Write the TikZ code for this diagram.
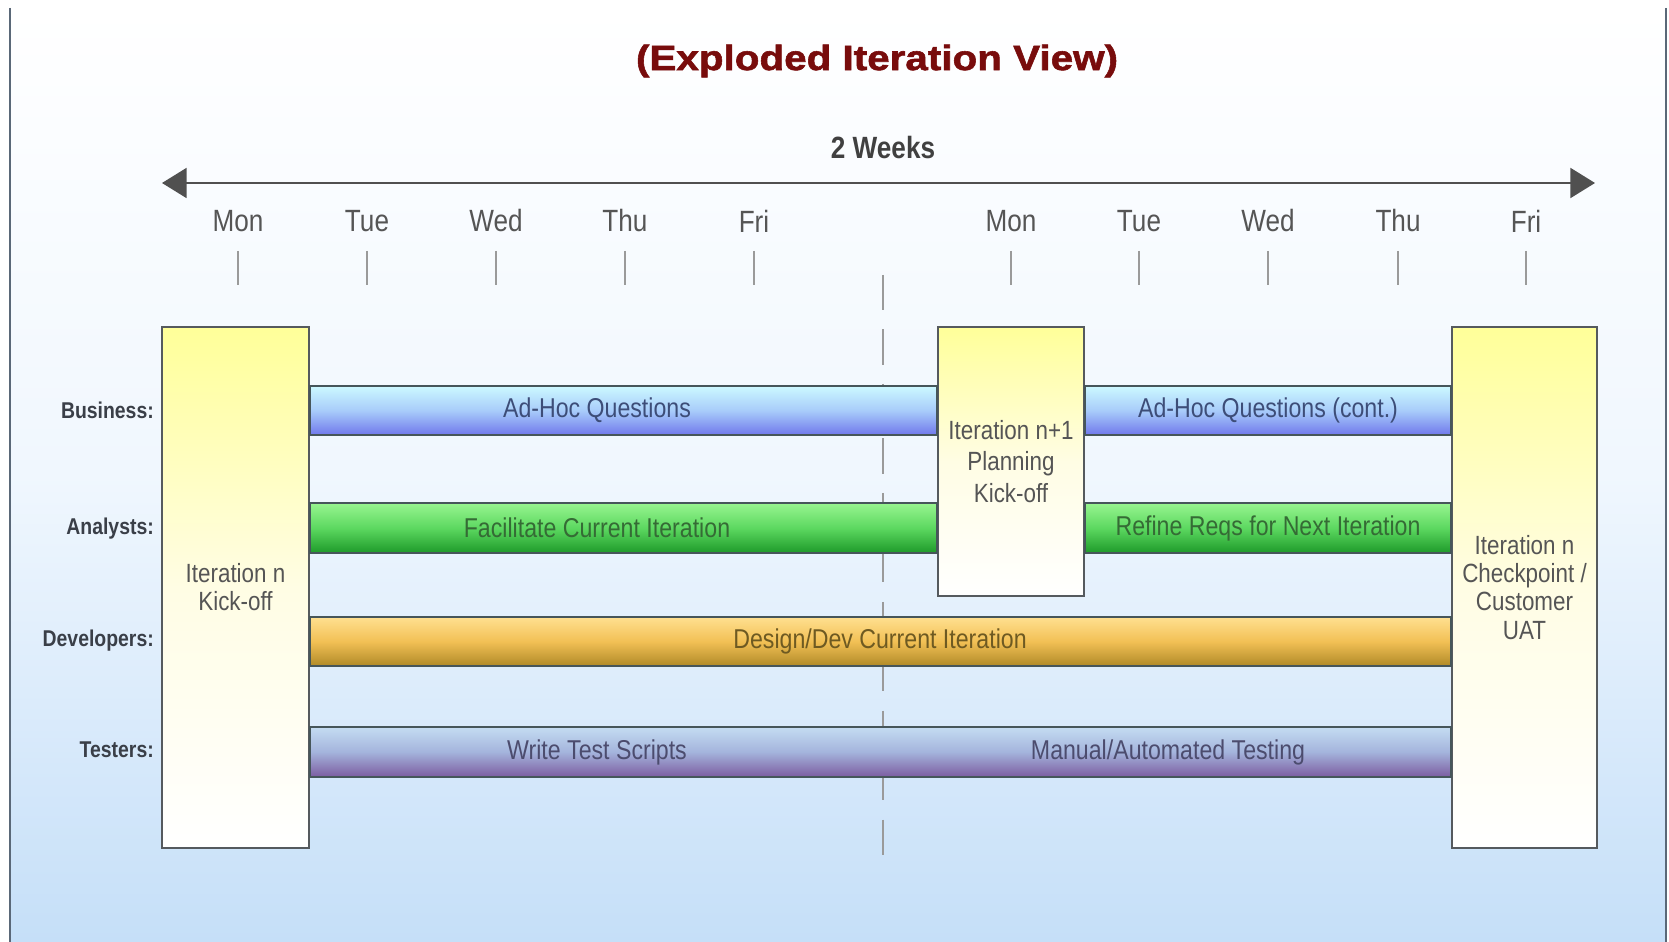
\documentclass[tikz,border=0pt]{standalone}
\usepackage{fontspec}
\setmainfont{Liberation Sans}
\newfontfamily\narrowfont[FakeStretch=0.85]{Liberation Sans}
\newfontfamily\titlefont[FakeStretch=1.15,FakeBold=1.6]{Liberation Sans}
\usetikzlibrary{arrows.meta}
\definecolor{bgbot}{HTML}{C5DFF8}
\definecolor{bgmid}{HTML}{F0F7FE}
\definecolor{framegray}{HTML}{5A6878}
\definecolor{titlered}{HTML}{780C0C}
\definecolor{weekgray}{HTML}{404040}
\definecolor{spangray}{HTML}{505050}
\definecolor{daygray}{HTML}{555555}
\definecolor{tickgray}{HTML}{9A9A9A}
\definecolor{rolegray}{HTML}{3A3F48}
\definecolor{boxgray}{HTML}{555A5E}
\definecolor{boxyellow}{HTML}{FFFF99}
\definecolor{boxpale}{HTML}{FFFDE4}
\definecolor{boxtext}{HTML}{555555}
\definecolor{bargray}{HTML}{46565A}
\definecolor{bizhi}{HTML}{CCF9FF}
\definecolor{bizmid}{HTML}{A8CCFA}
\definecolor{bizlo}{HTML}{7078EC}
\definecolor{bizink}{HTML}{3D4D78}
\definecolor{anhi}{HTML}{98F590}
\definecolor{anmid}{HTML}{5CD860}
\definecolor{anlo}{HTML}{1E9A2A}
\definecolor{anink}{HTML}{356B35}
\definecolor{devhi}{HTML}{FFE090}
\definecolor{devmid}{HTML}{F2C055}
\definecolor{devlo}{HTML}{B08A28}
\definecolor{devink}{HTML}{6E5A22}
\definecolor{testhi}{HTML}{C4DCF2}
\definecolor{testmid}{HTML}{A4B4DC}
\definecolor{testlo}{HTML}{7C5CA0}
\definecolor{testink}{HTML}{4C4C6E}
\begin{document}
\begin{tikzpicture}[x=0.02cm,y=-0.02cm,
	pagebg/.style={top color=white,bottom color=bgbot,middle color=bgmid},
	frameline/.style={draw=framegray,line width=1.2pt},
	pagetitle/.style={font=\titlefont\bfseries\fontsize{20}{24}\selectfont,text=titlered},
	spanlabel/.style={font=\narrowfont\bfseries\fontsize{17.5}{20}\selectfont,text=weekgray},
	span/.style={draw=spangray,line width=1.3pt,{Triangle[length=14pt,width=17pt]}-{Triangle[length=14pt,width=17pt]}},
	day/.style={font=\narrowfont\fontsize{17.5}{20}\selectfont,text=daygray},
	daytick/.style={draw=tickgray,line width=1pt},
	divider/.style={draw=tickgray,line width=1pt,dash pattern=on 20pt off 11pt},
	role/.style={anchor=east,font=\narrowfont\bfseries\fontsize{13}{15}\selectfont,text=rolegray},
	iterbox/.style={draw=boxgray,line width=1.2pt,top color=boxyellow,bottom color=white,middle color=boxpale,
		align=center,text=boxtext,font=\narrowfont\fontsize{15}{16}\selectfont,inner sep=0pt},
	bar/.style={draw=bargray,line width=1.1pt},
	bizbar/.style={bar,top color=bizhi,bottom color=bizlo,middle color=bizmid},
	anbar/.style={bar,top color=anhi,bottom color=anlo,middle color=anmid},
	devbar/.style={bar,top color=devhi,bottom color=devlo,middle color=devmid},
	testbar/.style={bar,top color=testhi,bottom color=testlo,middle color=testmid},
	bartext/.style={font=\narrowfont\fontsize{15.5}{18}\selectfont},
	biztext/.style={bartext,text=bizink},
	antext/.style={bartext,text=anink},
	devtext/.style={bartext,text=devink},
	testtext/.style={bartext,text=testink}]
	\useasboundingbox (0,0) rectangle (1669,942);
	\shade[pagebg] (10,8) rectangle (1666,942);
	\draw[frameline] (10,8) -- (10,942) (1666,8) -- (1666,942);

	\node[pagetitle] (title) at (877,61) {(Exploded Iteration View)};
	\node[spanlabel] (weeks) at (883,148) {2 Weeks};
	\coordinate (wkstart) at (162,183);
	\coordinate (wkend) at (1595,183);
	\draw[span] (wkstart) -- (wkend);

	\foreach \x/\d [count=\i] in {238/Mon,367/Tue,496/Wed,625/Thu,754/Fri,1011/Mon,1139/Tue,1268/Wed,1398/Thu,1526/Fri}{
		\node[day] (day\i) at (\x,221) {\d};
		\draw[daytick] (\x,251) -- (\x,285);
	}
	\draw[divider] (883,275) -- (883,862);

	\node[iterbox,minimum width=2.94cm,minimum height=10.42cm] (kickoff) at (235.5,587.5) {Iteration n\\Kick-off};
	\node[iterbox,minimum width=2.92cm,minimum height=5.38cm,font=\narrowfont\fontsize{15}{18}\selectfont] (planning) at (1011,461.5) {Iteration n+1\\Planning\\Kick-off};
	\node[iterbox,minimum width=2.9cm,minimum height=10.42cm] (checkpoint) at (1524.5,587.5) {Iteration n\\Checkpoint /\\Customer\\UAT};

	\path[bizbar] (kickoff.east |- 0,386) rectangle (planning.west |- 0,435);
	\path[bizbar] (planning.east |- 0,386) rectangle (checkpoint.west |- 0,435);
	\path[anbar] (kickoff.east |- 0,503) rectangle (planning.west |- 0,553);
	\path[anbar] (planning.east |- 0,503) rectangle (checkpoint.west |- 0,553);
	\path[devbar] (kickoff.east |- 0,617) rectangle (checkpoint.west |- 0,666);
	\path[testbar] (kickoff.east |- 0,727) rectangle (checkpoint.west |- 0,777);

	\node[biztext] (adhoc) at (597,410) {Ad-Hoc Questions};
	\node[biztext] (adhoccont) at (1268,410) {Ad-Hoc Questions (cont.)};
	\node[antext] (facilitate) at (597,528) {Facilitate Current Iteration};
	\node[antext] (refine) at (1268,528) {Refine Reqs for Next Iteration};
	\node[devtext] (designdev) at (880,641) {Design/Dev Current Iteration};
	\node[testtext] (scripts) at (597,752) {Write Test Scripts};
	\node[testtext] (testing) at (1168,752) {Manual/Automated Testing};

	\node[role] (business) at (160,410) {Business:};
	\node[role] (analysts) at (160,529) {Analysts:};
	\node[role] (developers) at (160,641) {Developers:};
	\node[role] (testers) at (160,750) {Testers:};
\end{tikzpicture}
\end{document}
